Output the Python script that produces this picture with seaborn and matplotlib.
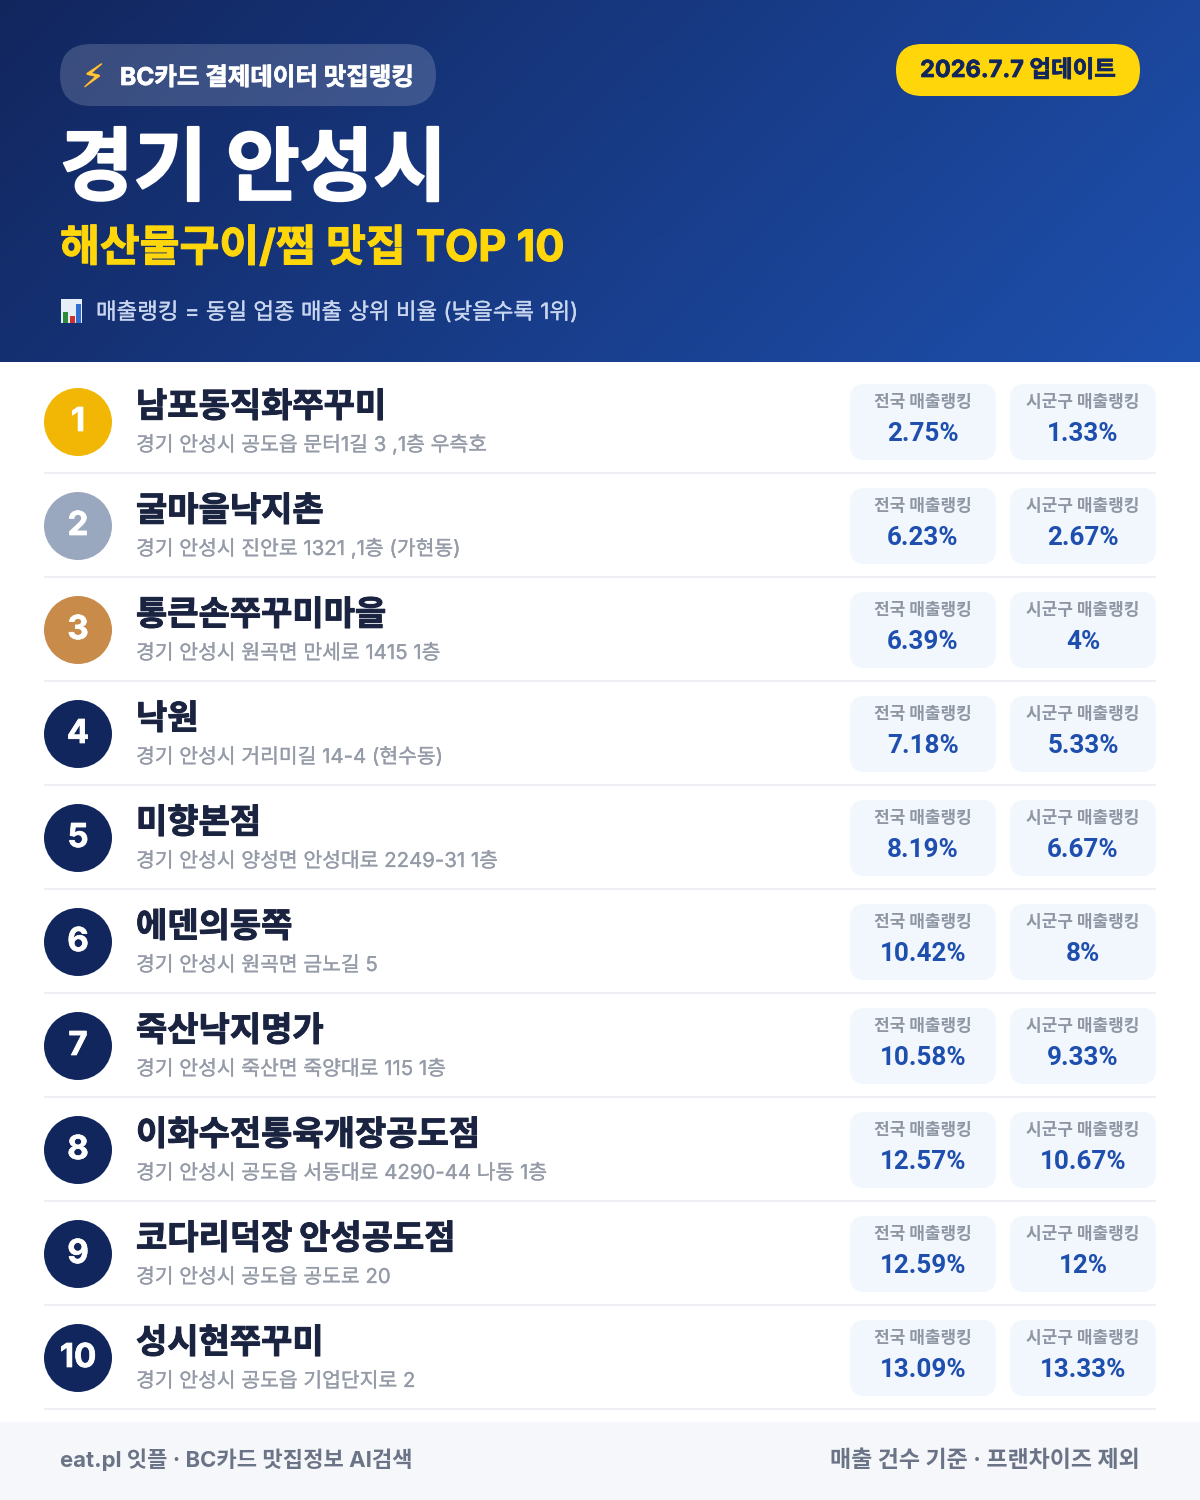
import numpy as np
import pandas as pd
import matplotlib
matplotlib.use("Agg")
import matplotlib.pyplot as plt
import matplotlib.patheffects as pe
from matplotlib.patches import FancyBboxPatch, Rectangle
import seaborn as sns

# === data ===
ranks = [1, 2, 3, 4, 5, 6, 7, 8, 9, 10]
names = ["남포동직화쭈꾸미", "굴마을낙지촌", "통큰손쭈꾸미마을", "낙원", "미향본점",
         "에덴의동쪽", "죽산낙지명가", "이화수전통육개장공도점", "코다리덕장 안성공도점", "성시현쭈꾸미"]
addresses = ["경기 안성시 공도읍 문터1길 3 ,1층 우측호", "경기 안성시 진안로 1321 ,1층 (가현동)",
             "경기 안성시 원곡면 만세로 1415 1층", "경기 안성시 거리미길 14-4 (현수동)",
             "경기 안성시 양성면 안성대로 2249-31 1층", "경기 안성시 원곡면 금노길 5",
             "경기 안성시 죽산면 죽양대로 115 1층", "경기 안성시 공도읍 서동대로 4290-44 나동 1층",
             "경기 안성시 공도읍 공도로 20", "경기 안성시 공도읍 기업단지로 2"]
national = ["2.75%", "6.23%", "6.39%", "7.18%", "8.19%", "10.42%", "10.58%", "12.57%", "12.59%", "13.09%"]
local = ["1.33%", "2.67%", "4%", "5.33%", "6.67%", "8%", "9.33%", "10.67%", "12%", "13.33%"]
rank_colors = ["#F2B705", "#9AA8BF", "#C98B4A"] + ["#12265E"] * 7

sns.set_theme(style="white")
plt.rcParams["font.family"] = ["Inter", "Noto Sans CJK KR", "DejaVu Sans"]


def txt(x, y, s, px, color, weight="bold", ha="left", heavy=0, z=4, family=None):
    # size given in pixels, y is the baseline; heavy thickens the strokes
    t = ax.text(x, y, s, fontsize=px * 0.72, color=color, fontweight=weight, ha=ha, va="baseline", zorder=z)
    if family:
        t.set_family(family)
    if heavy:
        t.set_path_effects([pe.withStroke(linewidth=heavy, foreground=color)])
    return t


def box(x0, y0, x1, y1, r, color, alpha=1.0, z=2):
    ax.add_patch(FancyBboxPatch((x0 + r, y0 + r), x1 - x0 - 2 * r, y1 - y0 - 2 * r,
                                boxstyle=f"round,pad={r},rounding_size={r}",
                                fc=color, ec="none", alpha=alpha, zorder=z))


fig = plt.figure(figsize=(12, 15), dpi=100)
ax = fig.add_axes([0, 0, 1, 1])
ax.set_xlim(0, 1200)
ax.set_ylim(1500, 0)
ax.axis("off")

# header gradient
gx, gy = np.meshgrid(np.linspace(0, 1, 300), np.linspace(0, 1, 90))
g = ((gx * 1200 + gy * 362) / (1200 + 362))[..., None]
c0, c1 = np.array([0x12, 0x26, 0x5E]) / 255, np.array([0x1E, 0x50, 0xAE]) / 255
ax.imshow(c0 + (c1 - c0) * g, extent=(0, 1200, 362, 0), aspect="auto", zorder=0)
ax.set_xlim(0, 1200)
ax.set_ylim(1500, 0)

box(60, 44, 436, 106, 31, "#FFFFFF", alpha=0.17)
bolt = txt(82, 87, "⚡", 32, "#FFC93C", weight="normal")
bolt.set_path_effects([pe.withStroke(linewidth=0.6, foreground="#F59E1B")])
txt(120, 85, "BC카드 결제데이터 맛집랭킹", 24.5, "white", heavy=0.5)
box(896, 44, 1140, 96, 26, "#FFD60A")
txt(1018, 77, "2026.7.7 업데이트", 23.5, "#12265E", ha="center", heavy=0.5)
txt(60, 194, "경기 안성시", 80, "white", heavy=1.5)
txt(60, 261, "해산물구이/찜 맛집 TOP 10", 43.3, "#FFD60A", heavy=0.8)

# little bar chart emoji
ax.add_patch(Rectangle((61, 299), 21, 24, fc="#E8EEF5", ec="none", zorder=2))
for bx, bt, bc in [(63, 312, "#2E8B3D"), (70, 316, "#D32F2F"), (76, 304, "#2F6FD0")]:
    ax.add_patch(Rectangle((bx, bt), 5, 323 - bt, fc=bc, ec="none", zorder=3))
txt(96, 319, "매출랭킹 = 동일 업종 매출 상위 비율 (낮을수록 1위)", 22.4, "#C9D6F0", weight="normal", heavy=0.2)

# rows
df = pd.DataFrame({"rank": ranks, "x": 78, "y": [422 + 104 * i for i in range(len(ranks))]})
sns.scatterplot(data=df, x="x", y="y", hue="rank", palette=rank_colors, s=2397,
                linewidth=0, legend=False, ax=ax, zorder=3)
ax.set_xlim(0, 1200)
ax.set_ylim(1500, 0)
ax.axis("off")

for i, r in enumerate(ranks):
    dy = 104 * i
    txt(78, 431 + dy, str(r), 33, "white", ha="center", heavy=0.5)
    txt(136, 417 + dy, names[i], 34, "#1A2340", weight="black", heavy=0.7)
    txt(136, 451 + dy, addresses[i], 20.4, "#959CA8", weight="normal", heavy=0.2)
    ax.hlines(473 + dy, 44, 1156, color="#EEF0F3", lw=1.5, zorder=1)
    for x0, x1, label, value in [(850, 996, "전국 매출랭킹", national[i]), (1010, 1156, "시군구 매출랭킹", local[i])]:
        box(x0, 384 + dy, x1, 460 + dy, 15, "#F2F6FD")
        xm = (x0 + x1) / 2
        txt(xm, 407 + dy, label, 17, "#8F96A3", ha="center")
        txt(xm, 441 + dy, value, 26, "#1E4FAE", ha="center", family=["Roboto", "DejaVu Sans"])

# footer
ax.add_patch(Rectangle((0, 1422), 1200, 78, fc="#F5F7FB", ec="none", zorder=1))
txt(60, 1467, "eat.pl 잇플 · BC카드 맛집정보 AI검색", 22.1, "#6B7486")
txt(1140, 1467, "매출 건수 기준 · 프랜차이즈 제외", 23, "#6B7486", ha="right")

fig.savefig("out.png", dpi=100, facecolor="white")
